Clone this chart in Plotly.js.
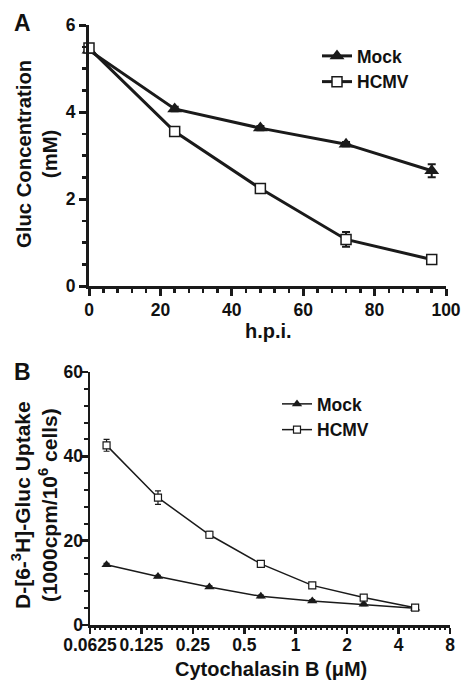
<!DOCTYPE html>
<html>
<head>
<meta charset="utf-8">
<script src="https://cdn.plot.ly/plotly-3.0.1.min.js"></script>
<style>html,body{margin:0;padding:0;background:#fff}#chart{width:462px;height:680px}</style>
</head>
<body>
<div id="chart"></div>
<script>
// Panel A data
const hpi = [0, 24, 48, 72, 96];
const mockA = [5.42, 4.07, 3.63, 3.26, 2.65];
const mockAErr = [0.05, 0.05, 0.05, 0.05, 0.15];
const hcmvA = [5.47, 3.55, 2.24, 1.07, 0.61];
const hcmvAErr = [0.05, 0.05, 0.07, 0.17, 0.05];
const xTicksA = [0, 20, 40, 60, 80, 100];
const yTicksA = [0, 2, 4, 6];

// Panel B data
const dose = [0.078125, 0.15625, 0.3125, 0.625, 1.25, 2.5, 5];
const mockB = [14.3, 11.5, 9.0, 6.8, 5.7, 4.9, 4.0];
const mockBErr = [0.3, 0.3, 0.3, 0.3, 0.3, 0.3, 0.3];
const hcmvB = [42.6, 30.2, 21.4, 14.5, 9.4, 6.5, 4.1];
const hcmvBErr = [1.4, 1.6, 0.8, 0.3, 0.3, 0.3, 0.3];
const xTicksB = [0.0625, 0.125, 0.25, 0.5, 1, 2, 4, 8];
const xTickTextB = ['0.0625', '0.125', '0.25', '0.5', '1', '2', '4', '8'];
const yTicksB = [0, 20, 40, 60];

// minor tick positions of the log2 axis (10 per doubling)
const minorB = [];
for (let o = -4; o < 3; o++) {
  for (let k = 1; k < 10; k++) minorB.push(Math.pow(2, o + k / 10));
}

const F = 'Liberation Sans, Arial, sans-serif';
const fnt = (s) => ({family: F, size: s, color: '#111', weight: 'bold'});

const traces = [
  {x: hpi, y: mockA, name: 'Mock', type: 'scatter', mode: 'lines+markers', xaxis: 'x', yaxis: 'y',
   line: {color: '#1a1a1a', width: 3}, marker: {symbol: 'triangle-up', size: 13, color: '#1a1a1a'},
   error_y: {type: 'data', array: mockAErr, color: '#1a1a1a', thickness: 2, width: 4},
   cliponaxis: false, legend: 'legend'},
  {x: hpi, y: hcmvA, name: 'HCMV', type: 'scatter', mode: 'lines+markers', xaxis: 'x', yaxis: 'y',
   line: {color: '#1a1a1a', width: 3}, marker: {symbol: 'square', size: 10, color: '#fff', line: {color: '#1a1a1a', width: 1.5}},
   error_y: {type: 'data', array: hcmvAErr, color: '#1a1a1a', thickness: 2, width: 4},
   cliponaxis: false, legend: 'legend'},
  {x: dose, y: mockB, name: 'Mock', type: 'scatter', mode: 'lines+markers', xaxis: 'x2', yaxis: 'y2',
   line: {color: '#1a1a1a', width: 1.5}, marker: {symbol: 'triangle-up', size: 9, color: '#1a1a1a'},
   error_y: {type: 'data', array: mockBErr, color: '#1a1a1a', thickness: 1.2, width: 3},
   cliponaxis: false, legend: 'legend2'},
  {x: dose, y: hcmvB, name: 'HCMV', type: 'scatter', mode: 'lines+markers', xaxis: 'x2', yaxis: 'y2',
   line: {color: '#1a1a1a', width: 1.5}, marker: {symbol: 'square', size: 7, color: '#fff', line: {color: '#1a1a1a', width: 1.2}},
   error_y: {type: 'data', array: hcmvBErr, color: '#1a1a1a', thickness: 1.2, width: 3},
   cliponaxis: false, legend: 'legend2'},
  // invisible trace to host the minor tick axis of panel B
  {x: [0.1], y: [0], xaxis: 'x3', yaxis: 'y2', type: 'scatter', mode: 'markers', marker: {opacity: 0}, showlegend: false, hoverinfo: 'skip'}
];

const pxX = (p) => p / 462;
const pxY = (p) => 1 - p / 680;

const baseAxis = {
  showgrid: false, zeroline: false, showline: true, linecolor: '#1a1a1a',
  ticks: 'outside', tickcolor: '#1a1a1a', tickfont: fnt(17.5)
};

const layout = {
  width: 462, height: 680,
  margin: {l: 0, r: 0, t: 0, b: 0},
  paper_bgcolor: '#fff', plot_bgcolor: '#fff',
  showlegend: true,
  xaxis: Object.assign({}, baseAxis, {
    domain: [pxX(89), pxX(446)], anchor: 'y', range: [0, 100],
    tickvals: xTicksA, linewidth: 3, tickwidth: 3, ticklen: 7, ticklabelstandoff: -1,
    minor: {dtick: 4, ticks: 'outside', ticklen: 4, tickwidth: 2.5, tickcolor: '#1a1a1a', showgrid: false}
  }),
  yaxis: Object.assign({}, baseAxis, {
    domain: [pxY(286), pxY(25)], anchor: 'x', range: [0, 6],
    tickvals: yTicksA, linewidth: 3, tickwidth: 3, ticklen: 7,
    minor: {dtick: 0.5, ticks: 'outside', ticklen: 4, tickwidth: 2.5, tickcolor: '#1a1a1a', showgrid: false}
  }),
  xaxis2: Object.assign({}, baseAxis, {
    domain: [pxX(90), pxX(450)], anchor: 'y2', type: 'log',
    range: [Math.log10(0.0625), Math.log10(8)],
    tickvals: xTicksB, ticktext: xTickTextB, linewidth: 2.5, tickwidth: 2.5, ticklen: 6, ticklabelstandoff: -4
  }),
  xaxis3: {
    domain: [pxX(90), pxX(450)], anchor: 'y2', overlaying: 'x2', type: 'log',
    range: [Math.log10(0.0625), Math.log10(8)],
    tickvals: minorB, ticks: 'outside', ticklen: 3.5, tickwidth: 2, tickcolor: '#1a1a1a',
    showticklabels: false, showline: false, showgrid: false, zeroline: false
  },
  yaxis2: Object.assign({}, baseAxis, {
    domain: [pxY(625), pxY(372)], anchor: 'x2', range: [0, 60],
    tickvals: yTicksB, linewidth: 2.5, tickwidth: 2.5, ticklen: 6, ticklabelstandoff: -5,
    minor: {dtick: 4, ticks: 'outside', ticklen: 3.5, tickwidth: 2, tickcolor: '#1a1a1a', showgrid: false}
  }),
  legend: {
    x: pxX(317), y: pxY(38), xanchor: 'left', yanchor: 'top',
    font: fnt(17.5), bgcolor: 'rgba(0,0,0,0)', borderwidth: 0, itemwidth: 30
  },
  legend2: {
    x: pxX(277), y: pxY(386), xanchor: 'left', yanchor: 'top',
    font: fnt(17.5), bgcolor: 'rgba(0,0,0,0)', borderwidth: 0, itemwidth: 30
  },
  annotations: [
    {text: 'A', x: pxX(22), y: pxY(23), xref: 'paper', yref: 'paper', showarrow: false, font: fnt(23), xanchor: 'center', yanchor: 'middle'},
    {text: 'B', x: pxX(22), y: pxY(372), xref: 'paper', yref: 'paper', showarrow: false, font: fnt(23), xanchor: 'center', yanchor: 'middle'},
    {text: 'Gluc Concentration<br>(mM)', x: pxX(37), y: pxY(154), xref: 'paper', yref: 'paper', showarrow: false, textangle: -90, font: fnt(20.3), xanchor: 'center', yanchor: 'middle'},
    {text: 'D-[6-<sup>3</sup>H]-Gluc Uptake<br>(1000cpm/10<sup>6</sup> cells)', x: pxX(34), y: pxY(505), xref: 'paper', yref: 'paper', showarrow: false, textangle: -90, font: fnt(21), xanchor: 'center', yanchor: 'middle'},
    {text: 'h.p.i.', x: pxX(268), y: pxY(331), xref: 'paper', yref: 'paper', showarrow: false, font: fnt(20), xanchor: 'center', yanchor: 'middle'},
    {text: 'Cytochalasin B (μM)', x: pxX(271), y: pxY(669), xref: 'paper', yref: 'paper', showarrow: false, font: fnt(20), xanchor: 'center', yanchor: 'middle'}
  ]
};

Plotly.newPlot('chart', traces, layout, {displayModeBar: false, staticPlot: true});
</script>
</body>
</html>
